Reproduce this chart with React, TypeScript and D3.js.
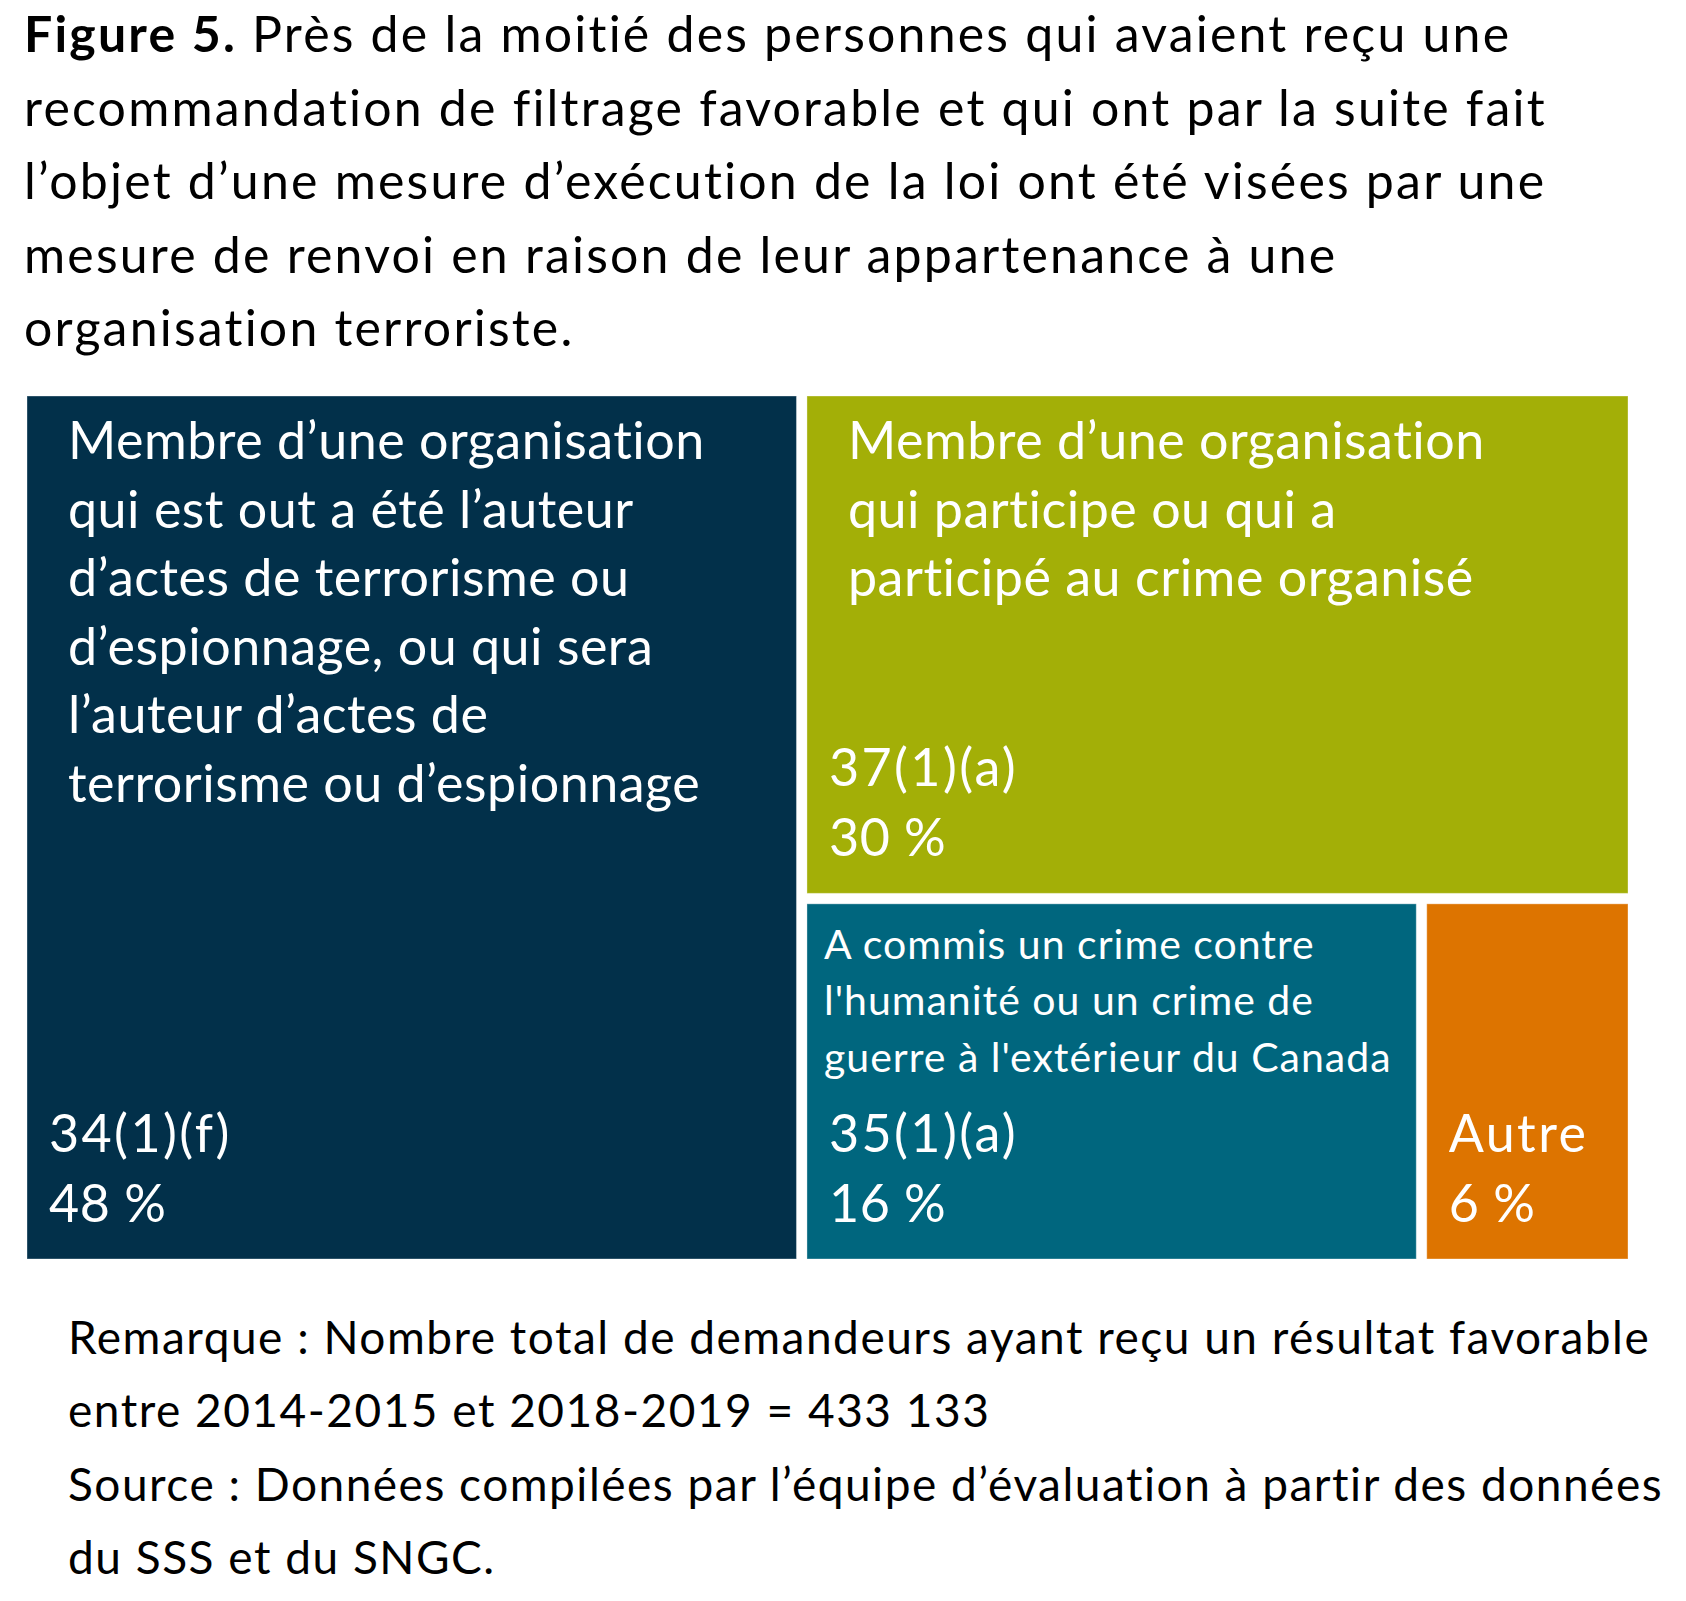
import React from "react";
import * as d3 from "d3";

const titleBold = "Figure 5.";
const titleLines = [
  " Près de la moitié des personnes qui avaient reçu une",
  "recommandation de filtrage favorable et qui ont par la suite fait",
  "l’objet d’une mesure d’exécution de la loi ont été visées par une",
  "mesure de renvoi en raison de leur appartenance à une",
  "organisation terroriste.",
];

// Shares (%) read from the tile areas; labels show them rounded
const categories = ["34(1)(f)", "37(1)(a)", "35(1)(a)", "Autre"];
const values = [48.4, 30.0, 16.1, 5.5];
const descriptions = [
  [
    "Membre d’une organisation",
    "qui est out a été l’auteur",
    "d’actes de terrorisme ou",
    "d’espionnage, ou qui sera",
    "l’auteur d’actes de",
    "terrorisme ou d’espionnage",
  ],
  [
    "Membre d’une organisation",
    "qui participe ou qui a",
    "participé au crime organisé",
  ],
  [
    "A commis un crime contre",
    "l'humanité ou un crime de",
    "guerre à l'extérieur du Canada",
  ],
  [],
];
const colors = ["#02304A", "#A3AF07", "#00667E", "#DD7400"];

const noteLines = [
  "Remarque : Nombre total de demandeurs ayant reçu un résultat favorable",
  "entre 2014-2015 et 2018-2019 = 433 133",
  "Source : Données compilées par l’équipe d’évaluation à partir des données",
  "du SSS et du SNGC.",
];

const FONT = "Lato, 'Open Sans', sans-serif";

export default function App() {
  const W = 1686;
  const H = 1601;
  const box = { x0: 27, y0: 396, x1: 1628, y1: 1259 };

  const data = categories.map((c, i) => ({
    name: c,
    value: values[i],
    desc: descriptions[i],
    color: colors[i],
    index: i,
  }));

  const root = d3
    .hierarchy({ name: "root", children: data } as any)
    .sum((d: any) => d.value || 0);

  d3
    .treemap()
    .tile(d3.treemapBinary)
    .size([box.x1 - box.x0, box.y1 - box.y0])
    .paddingInner(10.5)(root as any);

  const leaves = root.leaves() as any[];

  return (
    <svg
      width={W}
      height={H}
      style={{
        position: "absolute",
        left: 0,
        top: 0,
        background: "#fff",
        fontVariantLigatures: "none",
      }}
      fontFamily={FONT}
    >
      <g>
        {titleLines.map((line, i) => (
          <text
            key={i}
            x={24}
            y={52 + i * 73.5}
            fontSize={50}
            letterSpacing={2.2}
            fill="#000"
          >
            {i === 0 ? (
              <>
                <tspan fontWeight="bold">{titleBold}</tspan>
                {line}
              </>
            ) : (
              line
            )}
          </text>
        ))}
      </g>
      <g transform={`translate(${box.x0},${box.y0})`}>
        {leaves.map((n) => {
          const d = n.data;
          const w = n.x1 - n.x0;
          const h = n.y1 - n.y0;
          const small = d.index === 2;
          return (
            <g key={d.name} transform={`translate(${n.x0},${n.y0})`}>
              <rect
                width={w}
                height={h}
                fill={d.color}
                stroke="#ffffff"
                strokeOpacity={0.35}
                strokeWidth={1}
              />
              {d.desc.map((line: string, j: number) =>
                small ? (
                  <text
                    key={j}
                    x={17}
                    y={55 + j * 56.5}
                    fontSize={41}
                    letterSpacing={1}
                    fill="#fff"
                  >
                    {line}
                  </text>
                ) : (
                  <text
                    key={j}
                    x={41}
                    y={63 + j * 68.6}
                    fontSize={52}
                    letterSpacing={0.5}
                    fill="#fff"
                  >
                    {line}
                  </text>
                )
              )}
              <text
                x={22}
                y={h - 107}
                fontSize={52}
                letterSpacing={2.4}
                fill="#fff"
              >
                {d.name}
              </text>
              <text
                x={22}
                y={h - 37}
                fontSize={52}
                letterSpacing={0.5}
                fill="#fff"
              >
                {`${Math.round(d.value)} %`}
              </text>
            </g>
          );
        })}
      </g>
      <g>
        {noteLines.map((line, i) => (
          <text
            key={i}
            x={68}
            y={1354 + i * 73.3}
            fontSize={46}
            letterSpacing={1.5}
            fill="#000"
          >
            {line}
          </text>
        ))}
      </g>
    </svg>
  );
}
